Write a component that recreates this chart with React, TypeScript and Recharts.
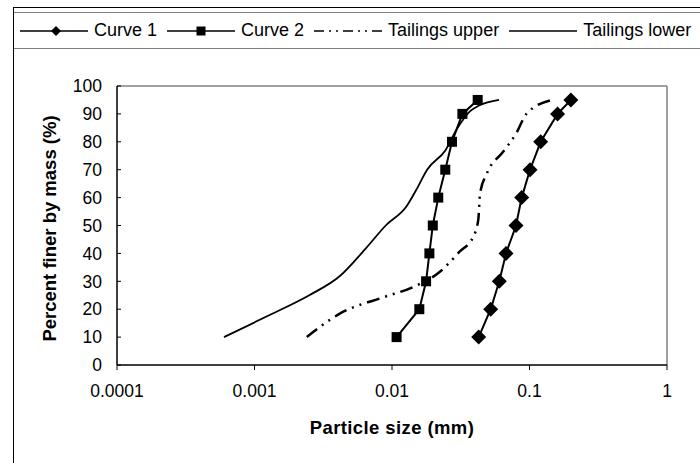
import React from 'react';
import { LineChart, Line, XAxis, YAxis, Legend, ReferenceLine } from 'recharts';

// particle size (mm) / percent finer (%)
const CURVE1_SIZE = [0.0427, 0.0522, 0.0603, 0.0675, 0.0798, 0.0877, 0.1009, 0.1206, 0.16, 0.2];
const CURVE1_PASS = [10, 20, 30, 40, 50, 60, 70, 80, 90, 95];
const CURVE2_SIZE = [0.0108, 0.0158, 0.0177, 0.0187, 0.0198, 0.0217, 0.0244, 0.0273, 0.0325, 0.042];
const CURVE2_PASS = [10, 20, 30, 40, 50, 60, 70, 80, 90, 95];
const UPPER_SIZE = [0.0024, 0.0042, 0.0087, 0.0143, 0.0223, 0.031, 0.039, 0.0424, 0.0437, 0.049, 0.0645, 0.08, 0.095, 0.145];
const UPPER_PASS = [10, 18.5, 24.3, 28, 33.4, 40.6, 46, 52, 61.5, 68.7, 76.5, 83, 90, 95];
const LOWER_SIZE = [0.0006, 0.0013, 0.0025, 0.0042, 0.0065, 0.009, 0.0128, 0.0151, 0.018, 0.0245, 0.03, 0.037, 0.043, 0.06];
const LOWER_PASS = [10, 18, 25, 32, 42, 50, 57, 63, 70, 77, 85, 91, 93, 95];

const X_TICKS = [0.0001, 0.001, 0.01, 0.1, 1];
const Y_TICKS = [0, 10, 20, 30, 40, 50, 60, 70, 80, 90, 100];

const FONT = '"Liberation Sans", Arial, sans-serif';

const zip = (xs: number[], ys: number[]) => xs.map((size, i) => ({ size, pass: ys[i] }));

const curve1 = zip(CURVE1_SIZE, CURVE1_PASS);
const curve2 = zip(CURVE2_SIZE, CURVE2_PASS);
const upper = zip(UPPER_SIZE, UPPER_PASS);
const lower = zip(LOWER_SIZE, LOWER_PASS);

const UPPER_DASH = '13 6 2 6 2 6';

function Diamond({ cx, cy, r = 7.5 }: { cx?: number; cy?: number; r?: number }) {
  if (cx == null || cy == null) return null;
  return <polygon points={`${cx},${cy - r} ${cx + r},${cy} ${cx},${cy + r} ${cx - r},${cy}`} fill="#000" />;
}

function Square({ cx, cy, r = 5 }: { cx?: number; cy?: number; r?: number }) {
  if (cx == null || cy == null) return null;
  return <rect x={cx - r} y={cy - r} width={r * 2} height={r * 2} fill="#000" />;
}

const legendItems = [
  { name: 'Curve 1', marker: 'diamond', dash: undefined },
  { name: 'Curve 2', marker: 'square', dash: undefined },
  { name: 'Tailings upper', marker: null, dash: '10 5 2 5 2 5' },
  { name: 'Tailings lower', marker: null, dash: undefined },
];

function LegendBox() {
  return (
    <div
      style={{
        height: 37, boxSizing: 'border-box', borderTop: '1px solid #808080',
        borderBottom: '1px solid #808080', display: 'flex', alignItems: 'center',
        paddingLeft: 6, whiteSpace: 'nowrap', fontFamily: FONT, fontSize: 18, color: '#000',
      }}
    >
      {legendItems.map((it) => (
        <div key={it.name} style={{ display: 'flex', alignItems: 'center', marginRight: 10 }}>
          <svg width={68} height={14} style={{ marginRight: 6 }}>
            <line x1={0} y1={7} x2={68} y2={7} stroke="#000" strokeWidth={1.5} strokeDasharray={it.dash} />
            {it.marker === 'diamond' && <Diamond cx={36} cy={7} r={5} />}
            {it.marker === 'square' && <Square cx={34} cy={7} r={4.5} />}
          </svg>
          <span>{it.name}</span>
        </div>
      ))}
    </div>
  );
}

export default function App() {
  return (
    <div style={{ position: 'fixed', left: 0, top: 0, width: 700, height: 463, overflow: 'hidden', background: '#fff' }}>
      <div style={{ position: 'absolute', left: 13, top: 7, width: 760, height: 520, border: '1px solid #000' }} />
      <div style={{ position: 'absolute', left: 0, top: 0 }}>
        <LineChart width={700} height={463} margin={{ top: 49, right: 33, bottom: 0, left: 17 }}>
          <Legend
            verticalAlign="top"
            align="left"
            content={LegendBox}
            wrapperStyle={{ top: 12, left: 14, width: 760 }}
          />
          <ReferenceLine y={100} stroke="#808080" strokeWidth={1.5} />
          <ReferenceLine x={1} stroke="#808080" strokeWidth={1.5} />
          <XAxis
            type="number"
            dataKey="size"
            scale="log"
            domain={[0.0001, 1]}
            ticks={X_TICKS}
            allowDataOverflow
            height={98}
            tickSize={5}
            tickMargin={15}
            tickFormatter={(v: number) => String(v)}
            tick={{ fill: '#000', fontSize: 17.5, fontFamily: FONT }}
            stroke="#000"
            axisLine={{ stroke: '#000', strokeWidth: 1.5 }}
            label={{
              content: ({ viewBox }: any) => (
                <text
                  x={viewBox.x + viewBox.width / 2}
                  y={viewBox.y + 69}
                  textAnchor="middle"
                  fontFamily={FONT}
                  fontSize={18.5}
                  fontWeight="bold"
                  letterSpacing={0.4}
                  fill="#000"
                >
                  Particle size (mm)
                </text>
              ),
            }}
          />
          <YAxis
            type="number"
            domain={[0, 100]}
            ticks={Y_TICKS}
            width={100}
            tickSize={-4}
            tickMargin={19}
            tick={{ fill: '#000', fontSize: 17.5, fontFamily: FONT }}
            stroke="#000"
            axisLine={{ stroke: '#000', strokeWidth: 1.5 }}
            label={{
              content: ({ viewBox }: any) => {
                const x = viewBox.x + 33;
                const y = viewBox.y + viewBox.height / 2 + 3;
                return (
                  <text
                    x={x}
                    y={y}
                    dy="0.35em"
                    transform={`rotate(-90 ${x} ${y})`}
                    textAnchor="middle"
                    fontFamily={FONT}
                    fontSize={18.5}
                    fontWeight="bold"
                    fill="#000"
                  >
                    Percent finer by mass (%)
                  </text>
                );
              },
            }}
          />
          <Line
            data={lower}
            dataKey="pass"
            name="Tailings lower"
            type="monotone"
            stroke="#000"
            strokeWidth={1.8}
            dot={false}
            isAnimationActive={false}
          />
          <Line
            data={upper}
            dataKey="pass"
            name="Tailings upper"
            type="monotone"
            stroke="#000"
            strokeWidth={2.5}
            strokeDasharray={UPPER_DASH}
            dot={false}
            isAnimationActive={false}
          />
          <Line
            data={curve2}
            dataKey="pass"
            name="Curve 2"
            type="linear"
            stroke="#000"
            strokeWidth={2}
            dot={(p: any) => <Square key={`s-${p.index}`} cx={p.cx} cy={p.cy} />}
            isAnimationActive={false}
          />
          <Line
            data={curve1}
            dataKey="pass"
            name="Curve 1"
            type="linear"
            stroke="#000"
            strokeWidth={2}
            dot={(p: any) => <Diamond key={`d-${p.index}`} cx={p.cx} cy={p.cy} />}
            isAnimationActive={false}
          />
        </LineChart>
      </div>
    </div>
  );
}
